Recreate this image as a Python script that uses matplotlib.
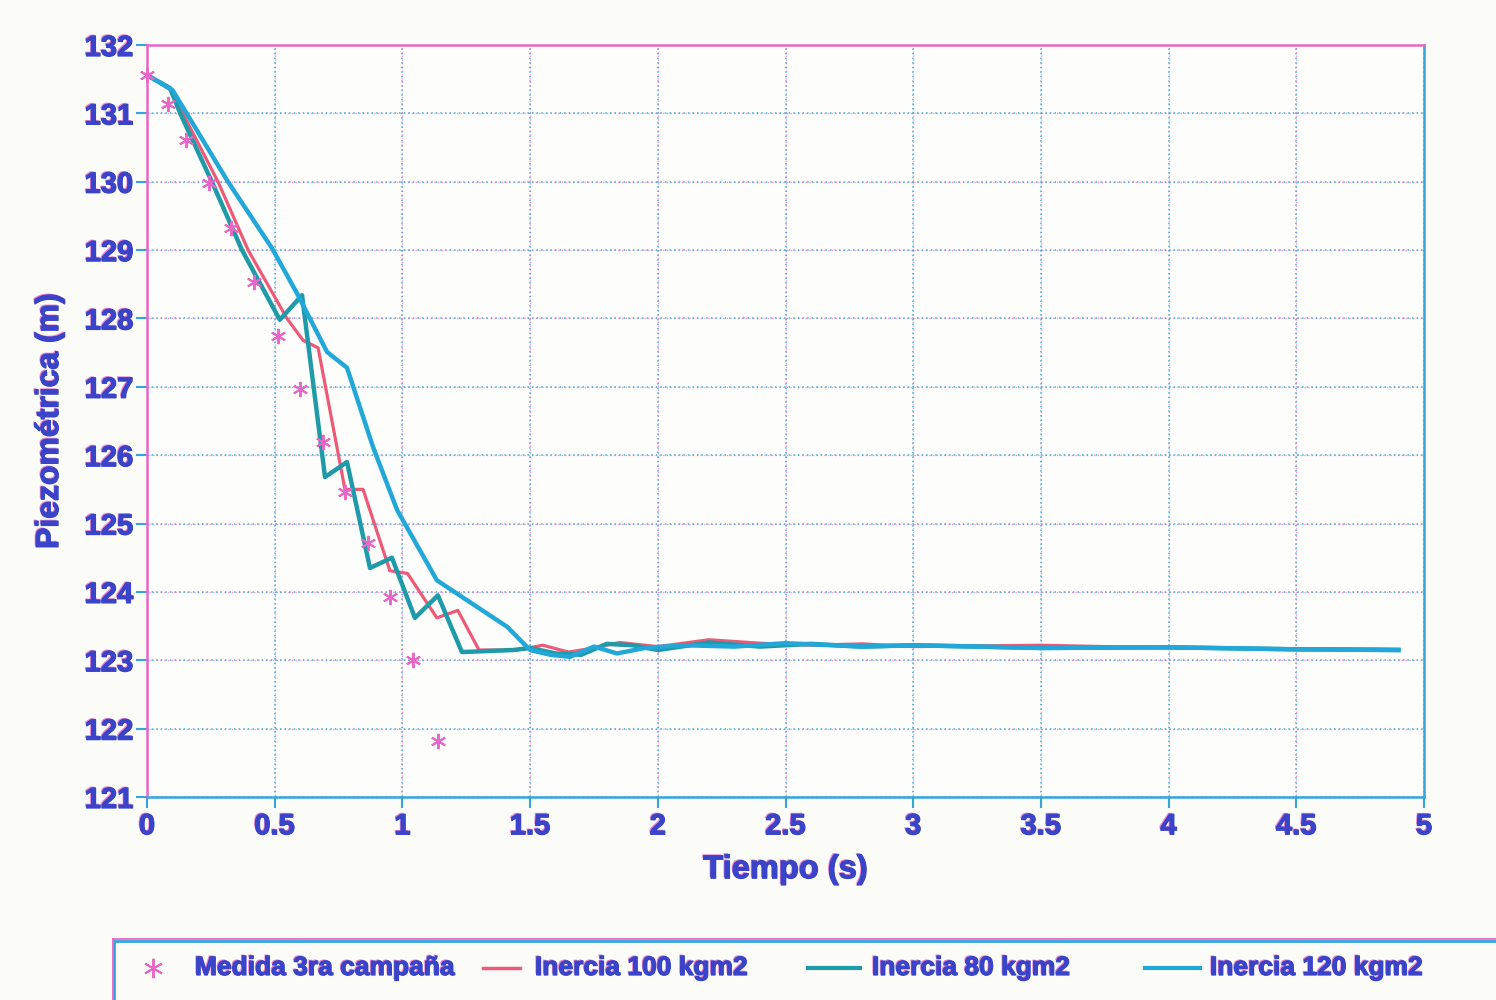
import matplotlib
matplotlib.use("Agg")
import matplotlib.pyplot as plt
import matplotlib.patheffects as pe
from matplotlib.lines import Line2D
from matplotlib.patches import Rectangle

# measured head, 3rd campaign
t_meas = [0.0, 0.082, 0.153, 0.243, 0.329, 0.419, 0.513, 0.599, 0.689, 0.775, 0.865, 0.951, 1.041, 1.139]
h_meas = [131.56, 131.14, 130.61, 129.98, 129.32, 128.53, 127.74, 126.97, 126.19, 125.46, 124.72, 123.93, 123.00, 121.82]

# simulation, inertia 100 kgm2
t_100 = [0.0, 0.09, 0.14, 0.278, 0.396, 0.548, 0.611, 0.67, 0.775, 0.846, 0.951, 1.02, 1.135, 1.217,
         1.30, 1.45, 1.55, 1.65, 1.75, 1.85, 2.0, 2.2, 2.4, 2.6, 2.8, 3.0, 3.5, 4.0, 4.5, 4.9]
h_100 = [131.56, 131.35, 131.0, 130.0, 129.0, 128.0, 127.68, 127.57, 125.5, 125.5, 124.31, 124.27, 123.62, 123.73,
         123.15, 123.15, 123.22, 123.12, 123.18, 123.26, 123.20, 123.30, 123.25, 123.22, 123.24, 123.20, 123.22,
         123.18, 123.17, 123.16]

# simulation, inertia 80 kgm2
t_80 = [0.0, 0.09, 0.13, 0.254, 0.372, 0.52, 0.607, 0.697, 0.783, 0.873, 0.959, 1.049, 1.139, 1.233,
        1.433, 1.5, 1.6, 1.7, 1.8, 1.9, 2.0, 2.2, 2.4, 2.6, 2.8, 3.0, 3.5, 4.0, 4.5, 4.9]
h_80 = [131.56, 131.37, 131.0, 130.0, 129.0, 127.98, 128.34, 125.68, 125.90, 124.35, 124.50, 123.62, 123.95, 123.12,
        123.15, 123.18, 123.10, 123.08, 123.24, 123.22, 123.15, 123.26, 123.20, 123.24, 123.20, 123.22, 123.18,
        123.19, 123.16, 123.15]

# simulation, inertia 120 kgm2
t_120 = [0.0, 0.1, 0.317, 0.489, 0.587, 0.705, 0.783, 0.885, 0.979, 1.135, 1.41, 1.50, 1.58, 1.656,
         1.75, 1.84, 1.95, 2.1, 2.3, 2.5, 2.8, 3.0, 3.5, 4.0, 4.5, 4.9]
h_120 = [131.56, 131.34, 130.0, 129.03, 128.37, 127.51, 127.28, 126.12, 125.20, 124.17, 123.49, 123.15, 123.08, 123.05,
         123.20, 123.10, 123.18, 123.22, 123.20, 123.25, 123.20, 123.22, 123.18, 123.19, 123.16, 123.15]

x_ticks = [0, 0.5, 1, 1.5, 2, 2.5, 3, 3.5, 4, 4.5, 5]
x_labels = ["0", "0.5", "1", "1.5", "2", "2.5", "3", "3.5", "4", "4.5", "5"]
y_ticks = list(range(121, 133))

labels = ["Medida 3ra campaña", "Inercia 100 kgm2", "Inercia 80 kgm2", "Inercia 120 kgm2"]

INK = "#3a44c8"
PINK = "#e866c8"
BLUE = "#34a6dc"
RED = "#ec5a78"
TEAL = "#1f9aa8"
CYAN = "#22a8d8"

plt.rcParams["font.family"] = ["Liberation Sans", "DejaVu Sans"]
plt.rcParams["font.weight"] = "bold"
# offset pink fringe behind the blue lettering
ink_fx = [pe.withSimplePatchShadow(offset=(-1.0, 1.0), shadow_rgbFace=PINK, alpha=0.8),
          pe.withStroke(linewidth=0.9, foreground=INK)]

fig = plt.figure(figsize=(14.96, 10), dpi=100, facecolor="#fbfbf8")
ax = fig.add_axes([147 / 1496, 1 - 797 / 1000, (1424 - 147) / 1496, (797 - 45) / 1000])
ax.set_facecolor("#fdfdfb")

ax.set_xlim(0, 5)
ax.set_ylim(121, 132)
ax.set_xticks(x_ticks)
ax.set_xticklabels(x_labels)
ax.set_yticks(y_ticks)

# dotted grid: blue and pink dots interleaved
ax.grid(True, color=BLUE, lw=1.1, linestyle=(0, (1, 2)), alpha=0.9, zorder=0)
for xv in x_ticks[1:-1]:
    ax.axvline(xv, color=PINK, lw=0.9, linestyle=(1.5, (1, 2)), alpha=0.7, zorder=0)
for yv in y_ticks[1:-1]:
    ax.axhline(yv, color=PINK, lw=0.9, linestyle=(1.5, (1, 2)), alpha=0.7, zorder=0)

ax.plot(t_100, h_100, color=RED, lw=2.3, zorder=3)
ax.plot(t_80, h_80, color=TEAL, lw=3.2, zorder=4)
ax.plot(t_120, h_120, color=CYAN, lw=3.2, zorder=5)
ax.plot(t_meas, h_meas, linestyle="none", marker=(6, 2, 0), markersize=11,
        markeredgewidth=1.4, color=PINK, zorder=6, clip_on=False)

for s in ax.spines.values():
    s.set_color(BLUE)
    s.set_linewidth(1.8)
ax.spines["top"].set_color(PINK)
ax.spines["left"].set_color(PINK)

ax.tick_params(axis="both", colors=BLUE, width=1.5, length=8, labelcolor=INK, labelsize=21)
ax.tick_params(axis="x", pad=3)
ax.tick_params(axis="y", pad=2)
for lab in ax.get_xticklabels() + ax.get_yticklabels():
    lab.set_fontweight("bold")
    lab.set_path_effects(ink_fx)

ax.set_xlabel("Tiempo (s)", fontsize=23.5, fontweight="bold", color=INK, labelpad=10, path_effects=ink_fx)
ax.set_ylabel("Piezométrica (m)", fontsize=23, fontweight="bold", color=INK, labelpad=14, path_effects=ink_fx)

# legend strip along the bottom, running off the page
leg_top = 1 - 941 / 1000
fig.add_artist(Rectangle((114 / 1496, -0.05), 1.0, leg_top + 0.05,
                         transform=fig.transFigure, fill=False, edgecolor=BLUE, lw=2.0))
fig.add_artist(Line2D([113 / 1496, 1.0], [leg_top + 0.002] * 2, transform=fig.transFigure, color=PINK, lw=1.3))
fig.add_artist(Line2D([113 / 1496] * 2, [0, leg_top + 0.002], transform=fig.transFigure, color=PINK, lw=1.3))
y_leg = 1 - 968 / 1000
handles = [
    dict(marker=(6, 2, 0), markersize=14, markeredgewidth=1.4, color=PINK, linestyle="none", x=[153 / 1496]),
    dict(color=RED, lw=2.5, x=[483 / 1496, 520 / 1496]),
    dict(color=TEAL, lw=3.0, x=[808 / 1496, 860 / 1496]),
    dict(color=CYAN, lw=3.0, x=[1145 / 1496, 1200 / 1496]),
]
text_x = [195, 535, 872, 1210]
for h, lab, tx in zip(handles, labels, text_x):
    xs = h.pop("x")
    fig.add_artist(Line2D(xs, [y_leg] * len(xs), transform=fig.transFigure, **h))
    fig.text(tx / 1496, y_leg, lab, fontsize=19, fontweight="bold", color=INK, va="center",
             path_effects=ink_fx)

fig.savefig("out.png", dpi=100, facecolor=fig.get_facecolor())
